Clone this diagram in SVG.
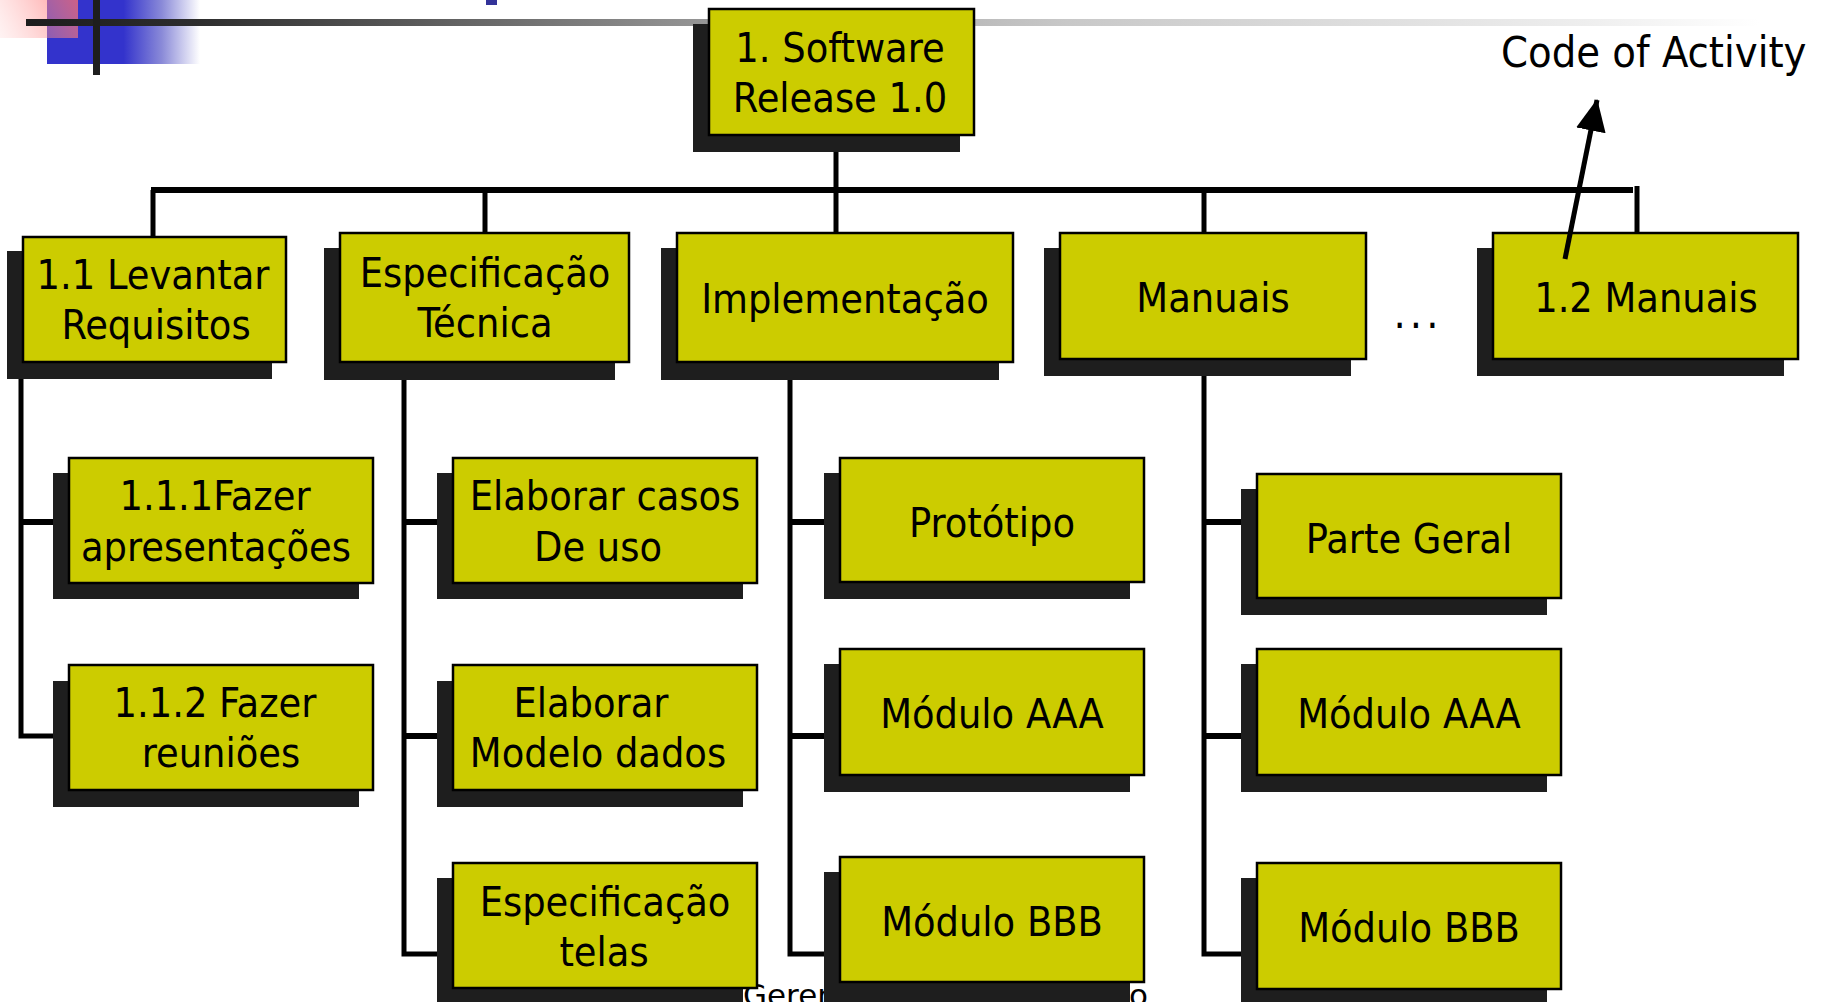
<svg xmlns="http://www.w3.org/2000/svg" width="1821" height="1002" viewBox="0 0 1821 1002">
  <style>
    .sh { fill: #1e1e1e; }
    .bx { fill: #cccc00; stroke: #000; stroke-width: 2.5; }
    .t { font-family: "DejaVu Sans Condensed", "DejaVu Sans", sans-serif; font-stretch: condensed; font-size: 41px; text-anchor: middle; fill: #000; }
    .lbl { font-family: "DejaVu Sans Condensed", "DejaVu Sans", sans-serif; font-stretch: condensed; font-size: 43px; fill: #000; }
    .foot { font-family: "DejaVu Sans", sans-serif; font-size: 31px; fill: #000; }
    .ln { stroke: #000; fill: none; stroke-linecap: butt; }
    .bus { stroke-width: 6; }
    .drop { stroke-width: 5; }
    .stub { stroke-width: 6; }
  </style>
  <defs>
    <linearGradient id="blueGrad" gradientUnits="userSpaceOnUse" x1="47" y1="0" x2="200" y2="0">
      <stop offset="0" stop-color="#3333cc"/>
      <stop offset="0.5" stop-color="#3333cc"/>
      <stop offset="0.75" stop-color="#8a8ad8"/>
      <stop offset="1" stop-color="#ffffff"/>
    </linearGradient>
    <linearGradient id="pinkGrad" gradientUnits="userSpaceOnUse" x1="78" y1="0" x2="0" y2="38">
      <stop offset="0" stop-color="#ff7070" stop-opacity="0.75"/>
      <stop offset="1" stop-color="#ffb0b0" stop-opacity="0.15"/>
    </linearGradient>
    <linearGradient id="barGrad" gradientUnits="userSpaceOnUse" x1="26" y1="0" x2="1760" y2="0">
      <stop offset="0" stop-color="#1c1c1c"/>
      <stop offset="0.1" stop-color="#2e2e2e"/>
      <stop offset="0.39" stop-color="#959595"/>
      <stop offset="0.6" stop-color="#c8c8c8"/>
      <stop offset="0.9" stop-color="#eeeeee"/>
      <stop offset="1" stop-color="#ffffff"/>
    </linearGradient>
    <marker id="arrowHead" markerUnits="userSpaceOnUse" markerWidth="32" markerHeight="32" refX="31" refY="15" orient="auto" viewBox="0 0 32 30">
      <path d="M0,0 L32,15 L0,30 Z" fill="#000"/>
    </marker>
  </defs>

  <g id="decoration">
    <rect x="47" y="0" width="153" height="64" fill="url(#blueGrad)"/>
    <rect x="0" y="0" width="78" height="38" fill="url(#pinkGrad)"/>
    <rect x="26" y="19" width="1734" height="7" fill="url(#barGrad)"/>
    <rect x="93" y="0" width="7" height="75" fill="#1e1e1e"/>
    <rect x="486" y="0" width="11" height="5" fill="#333399"/>
  </g>

  <text id="footer" class="foot" x="743" y="1006">Gerenciamento de Projeto</text>

  <g id="connectors">
    <line class="ln drop" x1="836" y1="135" x2="836" y2="233"/>
    <line class="ln bus" x1="151" y1="190" x2="1633" y2="190"/>
    <line class="ln drop" x1="153" y1="190" x2="153" y2="237"/>
    <line class="ln drop" x1="485" y1="190" x2="485" y2="233"/>
    <line class="ln drop" x1="1204" y1="190" x2="1204" y2="233"/>
    <line class="ln drop" x1="1637" y1="186" x2="1637" y2="233"/>

    <polyline class="ln drop" points="21,360 21,736 69,736"/>
    <line class="ln stub" x1="21" y1="522" x2="69" y2="522"/>

    <polyline class="ln drop" points="404,360 404,954 453,954"/>
    <line class="ln stub" x1="404" y1="522" x2="453" y2="522"/>
    <line class="ln stub" x1="404" y1="736" x2="453" y2="736"/>

    <polyline class="ln drop" points="790,360 790,954 840,954"/>
    <line class="ln stub" x1="790" y1="522" x2="840" y2="522"/>
    <line class="ln stub" x1="790" y1="736" x2="840" y2="736"/>

    <polyline class="ln drop" points="1204,358 1204,954 1257,954"/>
    <line class="ln stub" x1="1204" y1="522" x2="1257" y2="522"/>
    <line class="ln stub" x1="1204" y1="736" x2="1257" y2="736"/>
  </g>

  <g id="n-root">
    <rect class="sh" x="693" y="24" width="267" height="128"/>
    <rect class="bx" x="709" y="9" width="265" height="126"/>
    <text class="t"><tspan x="840" y="62">1. Software</tspan><tspan x="840" y="112">Release 1.0</tspan></text>
  </g>

  <g id="n-levantar">
    <rect class="sh" x="7" y="251" width="265" height="128"/>
    <rect class="bx" x="23" y="237" width="263" height="125"/>
    <text class="t"><tspan x="153" y="289">1.1 Levantar</tspan><tspan x="156" y="339">Requisitos</tspan></text>
  </g>

  <g id="n-especificacao">
    <rect class="sh" x="324" y="248" width="291" height="132"/>
    <rect class="bx" x="340" y="233" width="289" height="129"/>
    <text class="t"><tspan x="485" y="287">Especificação</tspan><tspan x="485" y="337">Técnica</tspan></text>
  </g>

  <g id="n-implementacao">
    <rect class="sh" x="661" y="248" width="338" height="132"/>
    <rect class="bx" x="677" y="233" width="336" height="129"/>
    <text class="t" x="845" y="313">Implementação</text>
  </g>

  <g id="n-manuais">
    <rect class="sh" x="1044" y="248" width="307" height="128"/>
    <rect class="bx" x="1060" y="233" width="306" height="126"/>
    <text class="t" x="1213" y="312">Manuais</text>
  </g>

  <text id="ellipsis" class="lbl" x="1418" y="328" text-anchor="middle" letter-spacing="4">...</text>

  <g id="n-manuais12">
    <rect class="sh" x="1477" y="248" width="307" height="128"/>
    <rect class="bx" x="1493" y="233" width="305" height="126"/>
    <text class="t" x="1646" y="312">1.2 Manuais</text>
  </g>

  <g id="n-apresentacoes">
    <rect class="sh" x="53" y="473" width="306" height="126"/>
    <rect class="bx" x="69" y="458" width="304" height="125"/>
    <text class="t"><tspan x="215" y="510">1.1.1Fazer</tspan><tspan x="216" y="561">apresentações</tspan></text>
  </g>

  <g id="n-reunioes">
    <rect class="sh" x="53" y="681" width="306" height="126"/>
    <rect class="bx" x="69" y="665" width="304" height="125"/>
    <text class="t"><tspan x="215" y="717">1.1.2 Fazer</tspan><tspan x="221" y="767">reuniões</tspan></text>
  </g>

  <g id="n-casos-uso">
    <rect class="sh" x="437" y="473" width="306" height="126"/>
    <rect class="bx" x="453" y="458" width="304" height="125"/>
    <text class="t"><tspan x="605" y="510">Elaborar casos</tspan><tspan x="598" y="561">De uso</tspan></text>
  </g>

  <g id="n-modelo-dados">
    <rect class="sh" x="437" y="681" width="306" height="126"/>
    <rect class="bx" x="453" y="665" width="304" height="125"/>
    <text class="t"><tspan x="591" y="717">Elaborar</tspan><tspan x="598" y="767">Modelo dados</tspan></text>
  </g>

  <g id="n-espec-telas">
    <rect class="sh" x="437" y="878" width="306" height="126"/>
    <rect class="bx" x="453" y="863" width="304" height="125"/>
    <text class="t"><tspan x="605" y="916">Especificação</tspan><tspan x="604" y="966">telas</tspan></text>
  </g>

  <g id="n-prototipo">
    <rect class="sh" x="824" y="473" width="306" height="126"/>
    <rect class="bx" x="840" y="458" width="304" height="124"/>
    <text class="t" x="992" y="537">Protótipo</text>
  </g>

  <g id="n-impl-aaa">
    <rect class="sh" x="824" y="664" width="306" height="128"/>
    <rect class="bx" x="840" y="649" width="304" height="126"/>
    <text class="t" x="992" y="728">Módulo AAA</text>
  </g>

  <g id="n-impl-bbb">
    <rect class="sh" x="824" y="872" width="306" height="130"/>
    <rect class="bx" x="840" y="857" width="304" height="125"/>
    <text class="t" x="992" y="936">Módulo BBB</text>
  </g>

  <g id="n-parte-geral">
    <rect class="sh" x="1241" y="489" width="306" height="126"/>
    <rect class="bx" x="1257" y="474" width="304" height="124"/>
    <text class="t" x="1409" y="553">Parte Geral</text>
  </g>

  <g id="n-man-aaa">
    <rect class="sh" x="1241" y="664" width="306" height="128"/>
    <rect class="bx" x="1257" y="649" width="304" height="126"/>
    <text class="t" x="1409" y="728">Módulo AAA</text>
  </g>

  <g id="n-man-bbb">
    <rect class="sh" x="1241" y="878" width="306" height="124"/>
    <rect class="bx" x="1257" y="863" width="304" height="126"/>
    <text class="t" x="1409" y="942">Módulo BBB</text>
  </g>

  <g id="annotation">
    <text class="lbl" x="1501" y="67">Code of Activity</text>
    <line class="ln" stroke-width="5" x1="1565" y1="259" x2="1597" y2="100" marker-end="url(#arrowHead)"/>
  </g>
</svg>
